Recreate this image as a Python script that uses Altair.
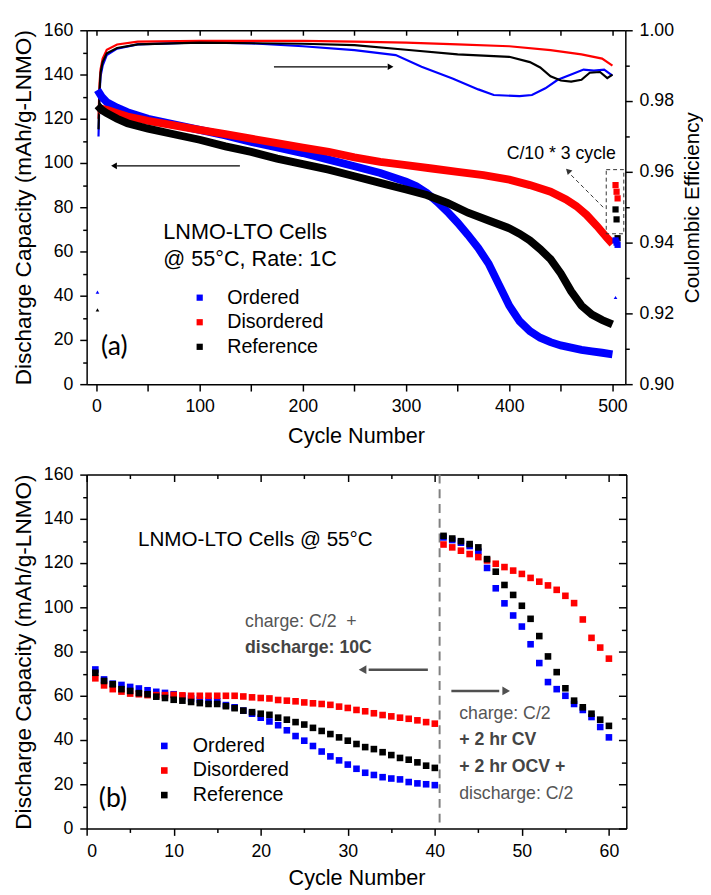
import altair as alt
import pandas as pd

SERIES = ["Ordered", "Disordered", "Reference"]
COLORS = ["#0000ff", "#ff0000", "#000000"]
FONT = "Liberation Sans"

# ---------------- panel (a): 1C cycling, discharge capacity ----------------
A_ORD_CYC = [1, 5, 10, 20, 30, 50, 75, 100, 125, 150, 175, 200, 225, 250, 275, 300,
             310, 320, 330, 340, 350, 360, 370, 380, 390, 400, 410, 420, 430, 440,
             450, 460, 470, 480, 490, 500]
A_ORD_CAP = [133, 130, 127.5, 125, 123, 120, 117.5, 115, 112.5, 109.5, 107, 104.5, 101.5, 98.5, 95.5, 91.5,
             89.5, 86.5, 82.5, 78, 73, 67.5, 61.5, 54.5, 45, 35.5, 28.5, 24, 21, 19,
             17.5, 16.5, 15.5, 14.8, 14.2, 13.5]
A_DIS_CYC = [1, 5, 10, 20, 30, 50, 75, 100, 125, 150, 175, 200, 225, 250, 275, 300,
             325, 350, 375, 400, 420, 440, 455, 465, 475, 485, 495, 500]
A_DIS_CAP = [123.5, 124.5, 124, 122.5, 121, 119, 117, 115, 113, 111, 109, 107, 105, 102.5, 100.5, 99,
             97.5, 96, 94.5, 92.5, 90, 87, 83.5, 80.5, 76.5, 71.5, 66, 63.5]
A_REF_CYC = [1, 5, 10, 20, 30, 50, 75, 100, 125, 150, 175, 200, 225, 250, 275, 300,
             320, 340, 360, 380, 400, 410, 420, 430, 440, 450, 460, 470, 480, 490, 500]
A_REF_CAP = [126, 124, 122.5, 120, 118, 115.5, 113, 110.5, 107.5, 105, 102, 99.5, 97, 94, 91, 88,
             85.5, 82, 77.5, 74, 70.5, 68, 65, 61, 56.5, 50, 42, 35.5, 31.5, 29, 27]

# coulombic efficiency (right axis)
A_ORD_CE_CYC = [2, 3, 4, 6, 10, 20, 40, 100, 150, 200, 250, 290, 315, 345, 370, 385, 410, 422,
                435, 447, 460, 472, 482, 492, 500]
A_ORD_CE = [0.970, 0.982, 0.987, 0.990, 0.993, 0.9948, 0.996, 0.9966, 0.9963, 0.9955, 0.9944,
            0.993, 0.9897, 0.9864, 0.9833, 0.9817, 0.9814, 0.9817, 0.9836, 0.986, 0.9875,
            0.9889, 0.9886, 0.9889, 0.9872]
A_DIS_CE_CYC = [2, 3, 4, 6, 10, 20, 40, 100, 200, 250, 300, 350, 400, 440, 470, 490, 500]
A_DIS_CE = [0.975, 0.985, 0.989, 0.992, 0.9945, 0.996, 0.9968, 0.997, 0.997, 0.9968, 0.9965,
            0.996, 0.9955, 0.9944, 0.9932, 0.992, 0.990]
A_REF_CE_CYC = [2, 3, 4, 6, 10, 20, 40, 100, 200, 250, 300, 350, 400, 420, 430, 440, 450, 460,
                470, 478, 488, 495, 500]
A_REF_CE = [0.972, 0.983, 0.988, 0.991, 0.9935, 0.995, 0.996, 0.9965, 0.9962, 0.9958, 0.9945,
            0.9932, 0.9925, 0.991, 0.9895, 0.987, 0.9858, 0.9855, 0.986, 0.988, 0.9882,
            0.9865, 0.9875]

# isolated low CE points (first cycle / first C/10 cycle)
A_CE_PT_CYC = [1, 1, 503]
A_CE_PT_SER = ["Ordered", "Reference", "Ordered"]
A_CE_PT_VAL = [0.926, 0.921, 0.9245]

# C/10 * 3 check-up cycles at the end
A_C10_CYC = [503, 504, 505]
A_C10_ORD = [65, 64, 63]
A_C10_DIS = [90, 87, 84]
A_C10_REF = [79, 74.5, 66]

# annotations (data coordinates)
A_TXT = ["LNMO-LTO Cells", "@ 55°C, Rate: 1C", "C/10 * 3 cycle"]
A_TXT_X = [64.8, 64.8, 397.5]
A_TXT_Y = [68.9, 56.4, 104]
A_TXT_SIZE = [22, 22, 18]
A_PANEL = ["(a)"]
A_PANEL_X = [4.5]
A_PANEL_Y = [16.9]
A_ARROW_X1 = [139, 172]
A_ARROW_X2 = [20, 282]
A_ARROW_Y = [98.7, 143.5]
A_HEAD_X = [17, 285]
A_HEAD_SHAPE = ["triangle-left", "triangle-right"]
A_DASH_X1 = [491]
A_DASH_X2 = [459]
A_DASH_Y1 = [80]
A_DASH_Y2 = [95]
A_DASH_HEAD_X = [457]
A_DASH_HEAD_Y = [96.5]
A_BOX_X = [494]
A_BOX_X2 = [511]
A_BOX_Y = [68]
A_BOX_Y2 = [97]

# ---------------- panel (b): 10C then C/2 ----------------
B_CYC = list(range(1, 61))
B_ORD = [71.9, 67.4, 65.5, 64.9, 64.0, 63.3, 62.5, 61.8, 61.3, 60.7,
         59.7, 58.8, 58.2, 57.8, 57.5, 55.8, 54.8, 53.3, 51.9, 50.1,
         48.4, 46.7, 44.4, 41.8, 39.7, 37.3, 34.8, 32.6, 30.8, 28.9,
         27.0, 25.2, 24.2, 23.2, 22.6, 22.2, 21.0, 20.4, 20.0, 19.6,
         131.6, 130.4, 129.2, 127.7, 125.2, 117.8, 108.6, 101.8, 96.3, 91.3,
         83.3, 74.8, 66.2, 63.0, 60.0, 56.3, 53.6, 50.4, 45.9, 41.2]
B_DIS = [67.9, 64.7, 63.0, 61.9, 61.0, 60.7, 60.3, 60.3, 60.3, 60.4,
         60.2, 60.0, 60.0, 60.0, 60.0, 60.0, 60.0, 59.7, 59.3, 59.0,
         58.8, 58.1, 57.8, 57.5, 57.0, 56.6, 56.3, 55.9, 55.1, 54.5,
         53.6, 53.0, 52.1, 51.3, 50.7, 50.1, 49.6, 48.9, 48.1, 47.4,
         128.4, 127.1, 125.6, 124.1, 122.7, 121.2, 119.7, 118.2, 116.6, 115.1,
         113.3, 111.6, 109.9, 107.9, 105.2, 101.9, 94.5, 86.2, 81.8, 76.8]
B_REF = [70.4, 66.7, 65.2, 63.0, 62.2, 61.2, 60.7, 59.6, 59.0, 58.2,
         57.8, 57.2, 56.7, 56.3, 56.3, 55.3, 54.4, 53.3, 52.6, 51.9,
         51.4, 50.1, 49.2, 48.1, 47.0, 45.5, 44.1, 42.7, 41.2, 39.7,
         38.2, 36.8, 35.9, 34.5, 33.2, 31.9, 31.1, 29.9, 28.4, 27.4,
         132.3, 131.1, 129.9, 128.6, 127.1, 121.8, 116.1, 110.1, 105.6, 100.7,
         94.8, 87.0, 77.8, 70.7, 63.4, 57.8, 54.8, 51.9, 49.2, 46.4]

B_SWITCH = [40.55]
B_TITLE = ["LNMO-LTO Cells @ 55°C"]
B_TITLE_X = [5.9]
B_TITLE_Y = [130.2]
B_NOTE = ["charge: C/2\u00a0\u00a0+", "discharge: 10C", "charge: C/2", "+ 2 hr CV",
          "+ 2 hr OCV +", "discharge: C/2"]
B_NOTE_X = [18.2, 18.2, 42.8, 42.8, 42.8, 42.8]
B_NOTE_Y = [93.3, 81.5, 51.9, 40.0, 27.7, 15.6]
B_NOTE_W = ["normal", "bold", "normal", "bold", "bold", "normal"]
B_PANEL = ["(b)"]
B_PANEL_X = [1.4]
B_PANEL_Y = [13.3]
B_ARROW_X1 = [39.2, 41.9]
B_ARROW_X2 = [32.4, 47.4]
B_ARROW_Y = [71.8, 62.2]
B_HEAD_X = [31.7, 48.2]
B_HEAD_SHAPE = ["triangle-left", "triangle-right"]


def long_df(cycs, vals, name="value"):
    rows = []
    for s, cyc, val in zip(SERIES, cycs, vals):
        for c, v in zip(cyc, val):
            rows.append({"cycle": c, name: v, "series": s})
    return pd.DataFrame(rows)


cap_df = long_df([A_ORD_CYC, A_DIS_CYC, A_REF_CYC], [A_ORD_CAP, A_DIS_CAP, A_REF_CAP])
ce_df = long_df([A_ORD_CE_CYC, A_DIS_CE_CYC, A_REF_CE_CYC], [A_ORD_CE, A_DIS_CE, A_REF_CE], "ce")
ce_pt_df = pd.DataFrame({"cycle": A_CE_PT_CYC, "ce": A_CE_PT_VAL, "series": A_CE_PT_SER})
c10_df = long_df([A_C10_CYC] * 3, [A_C10_ORD, A_C10_DIS, A_C10_REF])
c10_df["order"] = c10_df["series"].map({"Disordered": 0, "Reference": 1, "Ordered": 2})
b_df = long_df([B_CYC] * 3, [B_ORD, B_DIS, B_REF])
b_df["order"] = b_df["series"].map({"Ordered": 0, "Disordered": 1, "Reference": 2})

TICK_FS = 18
YTITLE_FS = 23
XTITLE_FS = 22
LEG_FS = 20


def ax(**kw):
    base = dict(labelFont=FONT, labelFontSize=TICK_FS, labelColor="black",
                titleFont=FONT, titleFontWeight="normal",
                titleColor="black", domainColor="black", domainWidth=1.5,
                tickColor="black", tickWidth=1.5, grid=False)
    base.update(kw)
    return alt.Axis(**base)


cs = alt.Scale(domain=SERIES, range=COLORS)

# ---------- panel (a) ----------
xa = alt.Scale(domain=[-9.5, 512.5], nice=False, zero=False)
ya = alt.Scale(domain=[0, 160], nice=False, zero=False)
yce = alt.Scale(domain=[0.9, 1.0], nice=False, zero=False)

XA_NONE = alt.X("x:Q", scale=xa, axis=None)
YA_NONE = alt.Y("y:Q", scale=ya, axis=None)

cap_lines = alt.Chart(cap_df).mark_line(strokeWidth=8, strokeCap="butt").encode(
    x=alt.X("cycle:Q", scale=xa, axis=ax(
        orient="bottom", values=list(range(0, 501, 50)),
        labelExpr="datum.value % 100 === 0 ? datum.label : ''",
        tickSize=7, labelPadding=7, titlePadding=10, titleFontSize=XTITLE_FS,
        title="Cycle Number")),
    y=alt.Y("value:Q", scale=ya, axis=ax(
        orient="left", values=list(range(0, 161, 10)),
        labelExpr="datum.value % 20 === 0 ? datum.label : ''",
        tickSize={"condition": {"test": "datum.value % 20 === 0", "value": 7}, "value": 4},
        labelPadding=7, titlePadding=8, titleFontSize=YTITLE_FS,
        title="Discharge Capacity (mAh/g-LNMO)")),
    stroke=alt.Stroke("series:N", scale=cs, legend=None),
)

c10_pts = alt.Chart(c10_df).mark_square(size=40, opacity=1).encode(
    x=alt.X("cycle:Q", scale=xa, axis=None),
    y=alt.Y("value:Q", scale=ya, axis=None),
    color=alt.Color("series:N", scale=cs, legend=alt.Legend(
        title=None, orient="none", legendX=105, legendY=262, symbolType="square",
        symbolSize=40, labelFont=FONT, labelFontSize=LEG_FS, labelOffset=18,
        rowPadding=5, padding=0)),
    order=alt.Order("order:Q"),
)

a_txt_df = pd.DataFrame({"x": A_TXT_X, "y": A_TXT_Y, "t": A_TXT, "s": A_TXT_SIZE})
a_txt = alt.Chart(a_txt_df).mark_text(align="left", baseline="middle", font=FONT,
                                      color="black").encode(
    x=XA_NONE, y=YA_NONE, text="t:N", size=alt.Size("s:Q", scale=None, legend=None))
a_panel = alt.Chart(pd.DataFrame({"x": A_PANEL_X, "y": A_PANEL_Y, "t": A_PANEL})).mark_text(
    align="left", baseline="middle", font="Lato", fontSize=27, color="black").encode(
    x=XA_NONE, y=YA_NONE, text="t:N")

a_arr_df = pd.DataFrame({"x": A_ARROW_X1, "x2": A_ARROW_X2, "y": A_ARROW_Y,
                         "hx": A_HEAD_X, "shape": A_HEAD_SHAPE})
a_shaft = alt.Chart(a_arr_df).mark_rule(color="black", strokeWidth=1.3).encode(
    x=XA_NONE, x2="x2:Q", y=YA_NONE)
a_head = alt.Chart(a_arr_df).mark_point(filled=True, color="black", size=45, opacity=1).encode(
    x=alt.X("hx:Q", scale=xa, axis=None), y=YA_NONE,
    shape=alt.Shape("shape:N", scale=None))

a_dash_df = pd.DataFrame({"x": A_DASH_X1, "x2": A_DASH_X2, "y": A_DASH_Y1, "y2": A_DASH_Y2,
                          "hx": A_DASH_HEAD_X, "hy": A_DASH_HEAD_Y})
a_dash = alt.Chart(a_dash_df).mark_rule(color="#333333", strokeWidth=1, strokeDash=[4, 3]).encode(
    x=XA_NONE, x2="x2:Q", y=YA_NONE, y2="y2:Q")
a_dash_head = alt.Chart(a_dash_df).mark_point(shape="triangle-up", angle=315, filled=True,
                                             color="#333333", size=45, opacity=1).encode(
    x=alt.X("hx:Q", scale=xa, axis=None), y=alt.Y("hy:Q", scale=ya, axis=None))
a_box = alt.Chart(pd.DataFrame({"x": A_BOX_X, "x2": A_BOX_X2, "y": A_BOX_Y, "y2": A_BOX_Y2})).mark_rect(
    fillOpacity=0, stroke="#333333", strokeWidth=1, strokeDash=[4, 3]).encode(
    x=XA_NONE, x2="x2:Q", y=YA_NONE, y2="y2:Q")

ce_lines = alt.Chart(ce_df).mark_line(strokeWidth=2.2).encode(
    x=alt.X("cycle:Q", scale=xa, axis=ax(
        orient="top", values=list(range(0, 501, 50)), labels=False,
        tickSize={"expr": "-5"}, title=None)),
    y=alt.Y("ce:Q", scale=yce, axis=ax(
        orient="right", values=[round(0.9 + 0.01 * i, 2) for i in range(11)],
        format=".2f",
        labelExpr="round(datum.value * 100) % 2 === 0 ? datum.label : ''",
        tickSize={"condition": {"test": "round(datum.value * 100) % 2 === 0", "value": 7}, "value": 4},
        labelPadding=7, titlePadding=8, titleAngle=270, titleBaseline="top",
        titleFontSize=21, title="Coulombic Efficiency")),
    stroke=alt.Stroke("series:N", scale=cs, legend=None),
)
ce_pts = alt.Chart(ce_pt_df).mark_point(shape="triangle-up", filled=True, size=14, opacity=1).encode(
    x=alt.X("cycle:Q", scale=xa, axis=None),
    y=alt.Y("ce:Q", scale=yce, axis=None),
    fill=alt.Fill("series:N", scale=cs, legend=None),
)

top = alt.layer(ce_lines, ce_pts, cap_lines, a_box, a_dash, a_dash_head, a_shaft, a_head,
                a_txt, a_panel, c10_pts).resolve_scale(y="independent").resolve_axis(
    x="independent", y="independent").properties(width=548, height=360)

# ---------- panel (b) ----------
xb = alt.Scale(domain=[0, 62], nice=False, zero=False)
yb = alt.Scale(domain=[0, 160], nice=False, zero=False)
XB_NONE = alt.X("x:Q", scale=xb, axis=None)
YB_NONE = alt.Y("y:Q", scale=yb, axis=None)

b_pts = alt.Chart(b_df).mark_square(size=45, opacity=1).encode(
    x=alt.X("cycle:Q", scale=xb, axis=ax(
        orient="bottom", values=list(range(0, 61, 5)),
        labelExpr="datum.value % 10 === 0 ? datum.label : ''",
        tickSize={"condition": {"test": "datum.value % 10 === 0", "value": 7}, "value": 4},
        labelPadding=7, titlePadding=8, titleFontSize=XTITLE_FS, title="Cycle Number")),
    y=alt.Y("value:Q", scale=yb, axis=ax(
        orient="left", values=list(range(0, 161, 10)),
        labelExpr="datum.value % 20 === 0 ? datum.label : ''",
        tickSize={"condition": {"test": "datum.value % 20 === 0", "value": 7}, "value": 4},
        labelPadding=7, titlePadding=8, titleFontSize=YTITLE_FS,
        title="Discharge Capacity (mAh/g-LNMO)")),
    color=alt.Color("series:N", scale=cs, legend=alt.Legend(
        title=None, orient="none", legendX=69, legendY=266, symbolType="square",
        symbolSize=45, labelFont=FONT, labelFontSize=LEG_FS, labelOffset=19,
        rowPadding=5, padding=0)),
    order=alt.Order("order:Q"),
)

b_frame = alt.Chart(b_df).mark_square(opacity=0).encode(
    x=alt.X("cycle:Q", scale=xb, axis=ax(
        orient="top", values=list(range(0, 61, 5)), labels=False,
        tickSize={"expr": "datum.value % 10 === 0 ? -7 : -4"}, title=None)),
    y=alt.Y("value:Q", scale=yb, axis=ax(
        orient="right", values=list(range(0, 161, 10)), labels=False,
        tickSize={"expr": "datum.value % 20 === 0 ? -8 : -5"}, title=None)),
)

b_switch = alt.Chart(pd.DataFrame({"x": B_SWITCH})).mark_rule(
    color="#808080", strokeWidth=2, strokeDash=[9, 6]).encode(x=XB_NONE)

b_title = alt.Chart(pd.DataFrame({"x": B_TITLE_X, "y": B_TITLE_Y, "t": B_TITLE})).mark_text(
    align="left", baseline="middle", font=FONT, fontSize=21, color="black").encode(
    x=XB_NONE, y=YB_NONE, text="t:N")
b_note_df = pd.DataFrame({"x": B_NOTE_X, "y": B_NOTE_Y, "t": B_NOTE, "w": B_NOTE_W})
b_note_n = alt.Chart(b_note_df).transform_filter("datum.w == 'normal'").mark_text(
    align="left", baseline="middle", font=FONT, fontSize=18, color="#555555").encode(
    x=XB_NONE, y=YB_NONE, text="t:N")
b_note_b = alt.Chart(b_note_df).transform_filter("datum.w == 'bold'").mark_text(
    align="left", baseline="middle", font=FONT, fontSize=18, fontWeight="bold",
    color="#444444").encode(x=XB_NONE, y=YB_NONE, text="t:N")
b_panel = alt.Chart(pd.DataFrame({"x": B_PANEL_X, "y": B_PANEL_Y, "t": B_PANEL})).mark_text(
    align="left", baseline="middle", font="Lato", fontSize=27, color="black").encode(
    x=XB_NONE, y=YB_NONE, text="t:N")

b_arr_df = pd.DataFrame({"x": B_ARROW_X1, "x2": B_ARROW_X2, "y": B_ARROW_Y,
                         "hx": B_HEAD_X, "shape": B_HEAD_SHAPE})
b_shaft = alt.Chart(b_arr_df).mark_rule(color="#505050", strokeWidth=2.5).encode(
    x=XB_NONE, x2="x2:Q", y=YB_NONE)
b_head = alt.Chart(b_arr_df).mark_point(filled=True, color="#505050", size=80, opacity=1).encode(
    x=alt.X("hx:Q", scale=xb, axis=None), y=YB_NONE,
    shape=alt.Shape("shape:N", scale=None))

bottom = alt.layer(b_frame, b_switch, b_title, b_note_n, b_note_b, b_panel, b_shaft, b_head,
                   b_pts).resolve_axis(x="independent", y="independent").properties(
    width=549, height=360)

chart = alt.vconcat(top, bottom, spacing=20).resolve_scale(color="independent").resolve_legend(
    color="independent").properties(
    padding={"left": 4, "top": 6, "right": 0, "bottom": 0}).configure_view(strokeWidth=0)

chart.save("out.html", embed_options={"renderer": "svg", "actions": False})
